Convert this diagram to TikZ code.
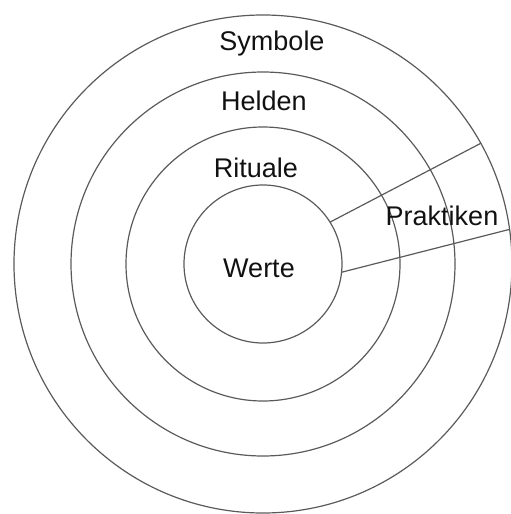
\documentclass[tikz,border=0pt]{standalone}
\usepackage{fontspec}
\setmainfont{Liberation Sans}
\usetikzlibrary{positioning,calc}
\definecolor{cRing}{HTML}{5A5A5A}
\definecolor{cInk}{HTML}{111111}
\tikzset{
  ring/.style ={circle,draw=cRing,line width=0.6pt,inner sep=0pt,outer sep=0pt},
  ray/.style  ={draw=cRing,line width=0.6pt},
  lbl/.style  ={font=\fontsize{13.5}{16}\selectfont,text=cInk,inner sep=0pt,anchor=base},
}
\begin{document}
\begin{tikzpicture}[x=0.5pt,y=-0.5pt]
\useasboundingbox (0,0) rectangle (510,514);
\coordinate (c) at (263,264);
% rings, inside out
\node[ring,minimum size=79pt]  (werte)   at (c) {};
\node[ring,minimum size=137pt] (rituale) at (c) {};
\node[ring,minimum size=192pt] (helden)  at (c) {};
\node[ring,minimum size=249pt] (symbole) at (c) {};
% labels
\node[lbl] (tSym)  at (272,50)  {Symbole};
\node[lbl] (tHel)  at (264,110) {Helden};
\node[lbl] (tRit)  at (256,177) {Rituale};
\node[lbl] (tWer)  at (259,277) {Werte};
\node[lbl] (tPra)  at (442,225) {Praktiken};
% Praktiken wedge
\draw[ray] (werte.32)  -- (symbole.29);
\draw[ray] (werte.-6)  -- (symbole.8.5);
\end{tikzpicture}
\end{document}
